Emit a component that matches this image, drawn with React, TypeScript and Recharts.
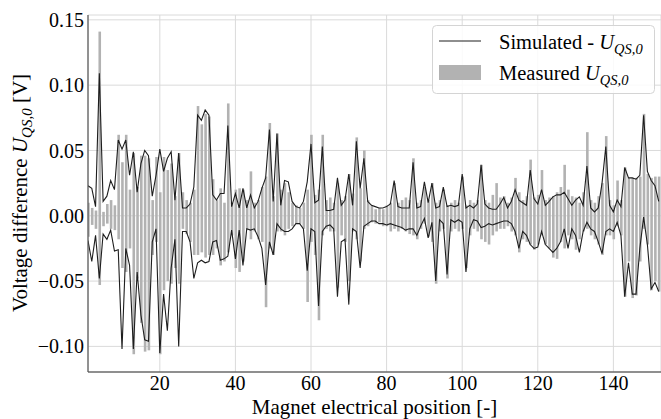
import React from "react";
import { ComposedChart, Bar, Line, XAxis, YAxis, CartesianGrid, Legend } from "recharts";

const measuredPos = [
  0.010, 0.006, 0.004, 0.141, 0.003, 0.009, 0.012, 0.008, 0.062, 0.041,
  0.062, 0.020, 0.048, 0.022, 0.046, 0.046, 0.044, 0.012, 0.045, 0.018,
  0.045, 0.035, 0.040, 0.015, 0.048, 0.018, 0.012, 0.010, 0.020, 0.084,
  0.070, 0.078, 0.076, 0.028, 0.012, 0.021, 0.010, 0.086, 0.010, 0.020,
  0.021, 0.020, 0.012, 0.034, 0.010, 0.012, 0.022, 0.030, 0.071, 0.015,
  0.063, 0.020, 0.025, 0.018, 0.010, 0.008, 0.006, 0.010, 0.020, 0.062,
  0.016, 0.020, 0.062, 0.012, 0.014, 0.010, 0.025, 0.012, 0.015, 0.032,
  0.017, 0.060, 0.021, 0.050, 0.012, 0.008, 0.005, 0.006, 0.005, 0.008,
  0.010, 0.025, 0.010, 0.012, 0.014, 0.012, 0.044, 0.010, 0.012, 0.022,
  0.012, 0.025, 0.010, 0.012, 0.020, 0.008, 0.010, 0.012, 0.010, 0.030,
  0.008, 0.012, 0.010, 0.012, 0.039, 0.012, 0.010, 0.016, 0.025, 0.014,
  0.015, 0.010, 0.014, 0.029, 0.018, 0.012, 0.015, 0.043, 0.014, 0.016,
  0.035, 0.012, 0.014, 0.015, 0.018, 0.022, 0.039, 0.020, 0.015, 0.014,
  0.010, 0.018, 0.064, 0.012, 0.010, 0.015, 0.025, 0.061, 0.012, 0.008,
  0.027, 0.012, 0.037, 0.029, 0.029, 0.029, 0.030, 0.078, 0.032, 0.029,
  0.030, 0.030,
];

const measuredNeg = [
  -0.016, -0.007, -0.010, -0.053, -0.008, -0.006, -0.010, -0.011, -0.018, -0.040,
  -0.043, -0.025, -0.106, -0.048, -0.082, -0.104, -0.103, -0.030, -0.020, -0.106,
  -0.057, -0.050, -0.052, -0.040, -0.052, -0.010, -0.014, -0.020, -0.030, -0.030,
  -0.028, -0.032, -0.030, -0.030, -0.025, -0.038, -0.035, -0.028, -0.015, -0.040,
  -0.043, -0.035, -0.010, -0.018, -0.012, -0.018, -0.020, -0.070, -0.025, -0.030,
  -0.012, -0.012, -0.015, -0.010, -0.008, -0.006, -0.006, -0.010, -0.066, -0.020,
  -0.030, -0.080, -0.015, -0.010, -0.012, -0.012, -0.055, -0.015, -0.020, -0.050,
  -0.012, -0.018, -0.035, -0.010, -0.008, -0.005, -0.006, -0.005, -0.008, -0.008,
  -0.012, -0.010, -0.012, -0.010, -0.012, -0.014, -0.015, -0.018, -0.010, -0.006,
  -0.016, -0.020, -0.052, -0.012, -0.010, -0.048, -0.012, -0.010, -0.012, -0.010,
  -0.040, -0.015, -0.010, -0.012, -0.018, -0.020, -0.022, -0.015, -0.012, -0.010,
  -0.010, -0.008, -0.012, -0.015, -0.028, -0.018, -0.020, -0.022, -0.026, -0.022,
  -0.015, -0.022, -0.025, -0.032, -0.033, -0.020, -0.025, -0.015, -0.018, -0.026,
  -0.018, -0.012, -0.010, -0.015, -0.018, -0.022, -0.030, -0.015, -0.015, -0.018,
  -0.008, -0.015, -0.062, -0.035, -0.063, -0.061, -0.035, -0.010, -0.022, -0.057,
  -0.050, -0.058,
];

const simUpper = [
  0.023, 0.021, 0.007, 0.109, 0.011, 0.015, 0.027, 0.020, 0.058, 0.051,
  0.058, 0.031, 0.049, 0.018, 0.040, 0.050, 0.046, 0.015, 0.031, 0.051,
  0.034, 0.044, 0.049, 0.012, 0.048, 0.006, 0.006, 0.009, 0.022, 0.077,
  0.073, 0.081, 0.077, 0.016, 0.012, 0.017, 0.017, 0.069, 0.007, 0.017,
  0.006, 0.021, 0.006, 0.016, 0.006, 0.011, 0.021, 0.029, 0.066, 0.011,
  0.063, 0.008, 0.027, 0.026, 0.011, 0.007, 0.006, 0.011, 0.026, 0.055,
  0.010, 0.012, 0.053, 0.004, 0.004, 0.005, 0.029, 0.008, 0.012, 0.032,
  0.008, 0.057, 0.021, 0.044, 0.011, 0.008, 0.007, 0.006, 0.006, 0.007,
  0.009, 0.027, 0.007, 0.006, 0.006, 0.006, 0.041, 0.006, 0.007, 0.026,
  0.010, 0.025, 0.006, 0.007, 0.022, 0.007, 0.008, 0.007, 0.008, 0.032,
  0.006, 0.008, 0.006, 0.009, 0.039, 0.009, 0.006, 0.005, 0.005, 0.009,
  0.014, 0.006, 0.011, 0.020, 0.012, 0.010, 0.008, 0.035, 0.013, 0.009,
  0.020, 0.008, 0.011, 0.0145, 0.016, 0.016, 0.018, 0.013, 0.008, 0.012,
  0.0145, 0.008, 0.038, 0.006, 0.003, 0.006, 0.025, 0.053, 0.008, 0.003,
  0.012, 0.007, 0.037, 0.029, 0.029, 0.028, 0.031, 0.077, 0.034, 0.027,
  0.023, 0.011,
];

const simLower = [
  -0.019, -0.035, -0.015, -0.048, -0.014, -0.018, -0.011, -0.027, -0.026, -0.102,
  -0.025, -0.038, -0.102, -0.043, -0.076, -0.095, -0.096, -0.020, -0.010, -0.105,
  -0.060, -0.088, -0.040, -0.018, -0.100, -0.012, -0.012, -0.020, -0.048, -0.036,
  -0.034, -0.036, -0.035, -0.020, -0.019, -0.034, -0.033, -0.031, -0.011, -0.033,
  -0.011, -0.038, -0.010, -0.011, -0.010, -0.016, -0.025, -0.053, -0.020, -0.030,
  -0.006, -0.010, -0.012, -0.012, -0.010, -0.006, -0.006, -0.010, -0.042, -0.010,
  -0.012, -0.069, -0.012, -0.008, -0.007, -0.010, -0.062, -0.020, -0.018, -0.068,
  -0.010, -0.012, -0.040, -0.008, -0.006, -0.004, -0.004, -0.006, -0.006, -0.007,
  -0.006, -0.007, -0.008, -0.009, -0.011, -0.010, -0.010, -0.015, -0.008, -0.002,
  -0.017, -0.005, -0.050, -0.003, -0.006, -0.045, -0.003, -0.005, -0.003, -0.005,
  -0.043, -0.010, -0.003, -0.004, -0.009, -0.008, -0.006, -0.007, -0.006, -0.005,
  -0.004, -0.004, -0.006, -0.012, -0.025, -0.012, -0.015, -0.022, -0.025, -0.024,
  -0.012, -0.022, -0.025, -0.028, -0.025, -0.020, -0.010, -0.025, -0.010, -0.015,
  -0.028, -0.012, -0.005, -0.010, -0.012, -0.020, -0.029, -0.012, -0.010, -0.012,
  -0.005, -0.015, -0.062, -0.036, -0.060, -0.060, -0.025, -0.001, -0.022, -0.056,
  -0.051, -0.058,
];

const positions = measuredPos.map((_, i) => i + 1);
const xTicks = [20, 40, 60, 80, 100, 120, 140];
const yTicks = [-0.1, -0.05, 0, 0.05, 0.1, 0.15];

const data = positions.map((p, i) => ({
  pos: p,
  measured: [measuredNeg[i], measuredPos[i]],
  simUpper: simUpper[i],
  simLower: simLower[i],
}));

const FONT = '"Liberation Serif", "Times New Roman", serif';
const BAR = "#b2b2b2";
const LINE = "#1e1e1e";

const fmtY = (v: number) => {
  const s = Math.abs(v).toFixed(2);
  return v < -1e-9 ? "\u2212" + s : s;
};

const YLabel = () => (
  <text
    x={27}
    y={193}
    transform="rotate(-90, 27, 193)"
    textAnchor="middle"
    fontFamily={FONT}
    fontSize={21}
    fill="#000"
  >
    Voltage difference <tspan fontStyle="italic">U</tspan>
    <tspan fontStyle="italic" fontSize={15} dy={5}>QS,0</tspan>
    <tspan dy={-5}> [V]</tspan>
  </text>
);

const LegendBox = () => (
  <svg width={223} height={69} style={{ display: "block" }}>
    <rect x={0.5} y={0.5} width={222} height={68} rx={4} ry={4} fill="#fff" fillOpacity={0.85} stroke="#d4d4d4" />
    <line x1={7} y1={16} x2={49} y2={16} stroke={LINE} strokeWidth={1.2} />
    <rect x={7} y={40} width={42} height={15} fill={BAR} />
    <text x={67} y={24} fontFamily={FONT} fontSize={20.5} fill="#000">
      Simulated - <tspan fontStyle="italic">U</tspan>
      <tspan fontStyle="italic" fontSize={14.5} dy={5}>QS,0</tspan>
    </text>
    <text x={67} y={55} fontFamily={FONT} fontSize={20.5} fill="#000">
      Measured <tspan fontStyle="italic">U</tspan>
      <tspan fontStyle="italic" fontSize={14.5} dy={5}>QS,0</tspan>
    </text>
  </svg>
);

export default function App() {
  return (
    <div style={{ position: "absolute", left: 0, top: 0, width: 661, height: 419, background: "#fff", overflow: "hidden" }}>
      <ComposedChart
        width={661}
        height={419}
        data={data}
        margin={{ top: 15, right: 0, bottom: 0, left: 0 }}
      >
        <CartesianGrid stroke="#dadada" strokeWidth={1} />
        <XAxis
          dataKey="pos"
          type="number"
          domain={[1, 152.6]}
          allowDataOverflow
          ticks={xTicks}
          height={47}
          axisLine={{ stroke: "#333", strokeWidth: 1.2 }}
          tickLine={false}
          tickSize={0}
          tickMargin={3.5}
          tick={{ fontFamily: FONT, fontSize: 20, fill: "#000" }}
          label={{
            value: "Magnet electrical position [-]",
            position: "insideBottom",
            offset: 5,
            fontFamily: FONT,
            fontSize: 21,
            fill: "#000",
          }}
        />
        <XAxis
          xAxisId="top"
          orientation="top"
          dataKey="pos"
          type="number"
          domain={[1, 152.6]}
          allowDataOverflow
          height={0}
          tick={false}
          tickLine={false}
          axisLine={{ stroke: "#777", strokeWidth: 1.2 }}
        />
        <YAxis
          type="number"
          domain={[-0.1196, 0.1537]}
          allowDataOverflow
          ticks={yTicks}
          width={88}
          axisLine={{ stroke: "#555", strokeWidth: 1.2 }}
          tickLine={false}
          tickSize={0}
          tickMargin={4}
          tickFormatter={fmtY}
          tick={{ fontFamily: FONT, fontSize: 20, fill: "#000" }}
          label={() => <YLabel />}
        />
        <Bar
          dataKey="measured"
          name="Measured"
          fill={BAR}
          barSize={2.6}
          isAnimationActive={false}
        />
        <Line
          dataKey="simUpper"
          name="Simulated"
          type="linear"
          stroke={LINE}
          strokeWidth={1.1}
          dot={false}
          activeDot={false}
          isAnimationActive={false}
        />
        <Line
          dataKey="simLower"
          name="Simulated lower"
          type="linear"
          stroke={LINE}
          strokeWidth={1.1}
          dot={false}
          activeDot={false}
          legendType="none"
          isAnimationActive={false}
        />
        <Legend
          layout="horizontal"
          verticalAlign="middle"
          align="center"
          wrapperStyle={{ left: 432, top: 25, width: 223, height: 69 }}
          content={() => <LegendBox />}
        />
      </ComposedChart>
    </div>
  );
}
